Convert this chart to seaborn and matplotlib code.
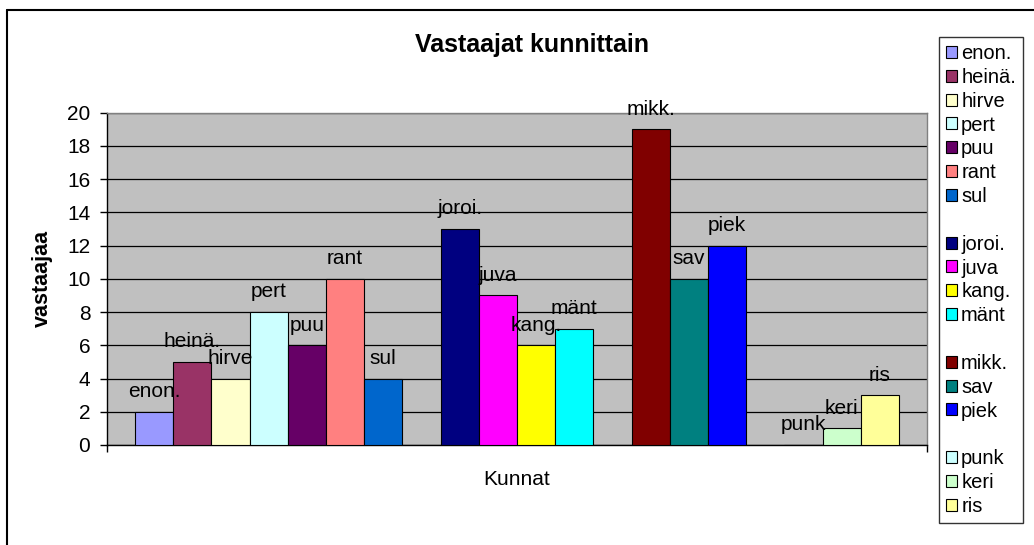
import pandas as pd
import matplotlib
matplotlib.use("Agg")
import matplotlib.pyplot as plt
from matplotlib.patches import Patch
from matplotlib.lines import Line2D
import seaborn as sns

# Data
kunnat = ["enon.", "heinä.", "hirve", "pert", "puu", "rant", "sul",
          "joroi.", "juva", "kang.", "mänt",
          "mikk.", "sav", "piek",
          "punk", "keri", "ris"]
vastaajat = [2, 5, 4, 8, 6, 10, 4,
             13, 9, 6, 7,
             19, 10, 12,
             0, 1, 3]
ryhmat = [1, 1, 1, 1, 1, 1, 1, 2, 2, 2, 2, 3, 3, 3, 4, 4, 4]
varit = ["#9999FF", "#993366", "#FFFFCC", "#CCFFFF", "#660066", "#FF8080", "#0066CC",
         "#000080", "#FF00FF", "#FFFF00", "#00FFFF",
         "#800000", "#008080", "#0000FF",
         "#CCFFFF", "#CCFFCC", "#FFFF99"]

# bar slots: one empty slot between groups
paikat = []
p = 0
for i, g in enumerate(ryhmat):
    if i > 0 and g != ryhmat[i - 1]:
        p += 1
    paikat.append(p)
    p += 1

df = pd.DataFrame({"kunta": kunnat, "vastaajaa": vastaajat, "ryhma": ryhmat, "paikka": paikat})

sns.set_theme(style="white")
plt.rcParams["font.family"] = ["Liberation Sans", "DejaVu Sans"]
plt.rcParams["text.color"] = "black"
plt.rcParams["axes.labelcolor"] = "black"
plt.rcParams["xtick.color"] = "black"
plt.rcParams["ytick.color"] = "black"

W, H = 1034, 545
fig = plt.figure(figsize=(W / 100, H / 100), dpi=100)
ax = fig.add_axes([107 / W, 1 - 445 / H, 820 / W, 332.3 / H])
ax.set_facecolor("#C0C0C0")

sns.barplot(data=df, x="paikka", y="vastaajaa", hue="kunta",
            palette=dict(zip(kunnat, varit)), native_scale=True, dodge=False,
            width=1, saturation=1, edgecolor="black", linewidth=0.8,
            legend=False, ax=ax, zorder=3)

# bar name labels above each bar
for _, r in df.iterrows():
    ax.annotate(r["kunta"], (r["paikka"], r["vastaajaa"]), xytext=(0, 10.5),
                textcoords="offset points", ha="center", va="baseline",
                fontsize=15, color="black", zorder=5, annotation_clip=False)

ax.set_xlim(-1.23, 20.23)
ax.set_ylim(0, 20)
ax.set_yticks(range(0, 21, 2))
ax.set_xticks([-1.23, 20.23])
ax.set_xticklabels(["", ""])
ax.tick_params(axis="y", direction="out", length=5, width=1, pad=7,
               labelsize=15, colors="black", left=True)
ax.tick_params(axis="x", direction="out", length=5, width=1, bottom=True, colors="black")
ax.yaxis.grid(True, color="black", linewidth=0.9)
ax.set_axisbelow(True)
for s in ["left", "bottom"]:
    ax.spines[s].set_color("black")
    ax.spines[s].set_linewidth(1.0)
for s in ["top", "right"]:
    ax.spines[s].set_color("#808080")
    ax.spines[s].set_linewidth(1.0)

ax.set_xlabel("Kunnat", fontsize=15, color="black")
ax.xaxis.set_label_coords(0.5, -0.075)
ax.set_ylabel("vastaajaa", fontsize=15.5, fontweight="bold", color="black")
ax.yaxis.set_label_coords(-0.066, 0.5)

fig.text(532 / W, 1 - 52 / H, "Vastaajat kunnittain", fontsize=18,
         fontweight="bold", ha="center", va="baseline", color="black")

# legend with blank rows between groups
handles, labels = [], []
for i, (k, c, g) in enumerate(zip(kunnat, varit, ryhmat)):
    if i > 0 and g != ryhmat[i - 1]:
        handles.append(Patch(facecolor="none", edgecolor="none"))
        labels.append(" ")
    handles.append(Patch(facecolor=c, edgecolor="black", linewidth=0.8))
    labels.append(k)
leg = fig.legend(handles, labels, loc="upper left",
                 bbox_to_anchor=(939 / W, 1 - 37 / H), fontsize=14.5,
                 frameon=True, fancybox=False, labelspacing=0.24,
                 handlelength=0.55, handleheight=0.55, handletextpad=0.2,
                 borderpad=0.35, borderaxespad=0)
leg.get_frame().set_edgecolor("black")
leg.get_frame().set_linewidth(1.0)
for t in leg.get_texts():
    t.set_color("black")

# outer chart border (left and top)
fig.add_artist(Line2D([7 / W, 7 / W], [0, 1 - 10 / H], color="black", linewidth=1.5))
fig.add_artist(Line2D([7 / W, 1], [1 - 10 / H, 1 - 10 / H], color="black", linewidth=1.5))

fig.savefig("out.png", dpi=100)
